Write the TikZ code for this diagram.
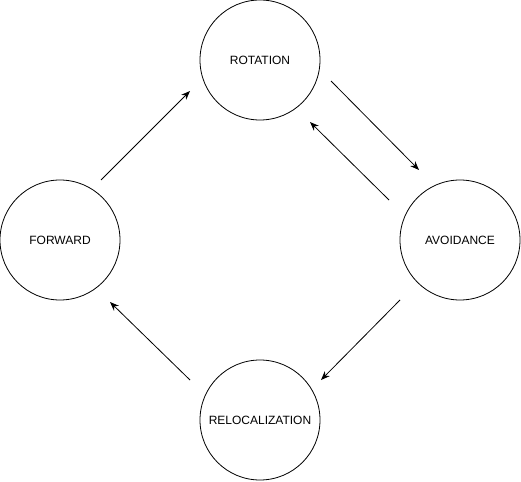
\documentclass[tikz,border=0pt]{standalone}
\usepackage{fontspec}
\setmainfont{Liberation Sans}
\usetikzlibrary{arrows.meta}

\begin{document}
\begin{tikzpicture}[
    x=1pt, y=-1pt,
    state/.style={circle, draw, line width=0.8pt, minimum size=120pt, inner sep=0pt, font=\fontsize{12}{14}\selectfont},
    arrow/.style={-{Stealth[length=9pt, width=7pt]}, line width=0.8pt}
]
\useasboundingbox (0,0) rectangle (521,481);

% States
\node[state] (rotation) at (260, 60) {ROTATION};
\node[state] (forward) at (60, 240) {FORWARD};
\node[state] (avoidance) at (460, 240) {AVOIDANCE};
\node[state] (reloc) at (260, 420) {RELOCALIZATION};

% Free arrow ends
\coordinate (fwd_out) at (101, 180);
\coordinate (rot_in) at (190, 91);
\coordinate (rot_out) at (331, 81);
\coordinate (avo_in) at (419, 170);
\coordinate (avo_back) at (389, 200);
\coordinate (rot_back) at (310, 122);
\coordinate (avo_out) at (400, 300);
\coordinate (rel_in) at (321, 380);
\coordinate (rel_out) at (190, 380);
\coordinate (fwd_in) at (110, 302);

% Transitions
\draw[arrow] (fwd_out) -- (rot_in);
\draw[arrow] (rot_out) -- (avo_in);
\draw[arrow] (avo_back) -- (rot_back);
\draw[arrow] (avo_out) -- (rel_in);
\draw[arrow] (rel_out) -- (fwd_in);

\end{tikzpicture}
\end{document}
